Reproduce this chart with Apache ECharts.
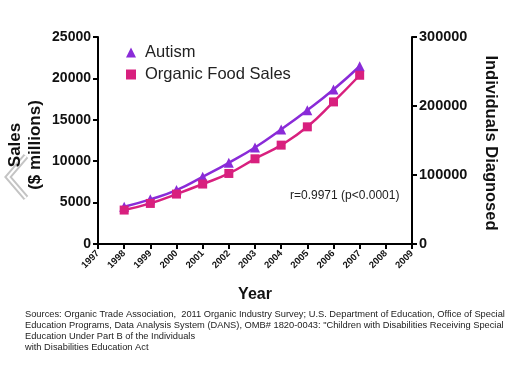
<!DOCTYPE html>
<html><head><meta charset="utf-8">
<script src="https://cdn.jsdelivr.net/npm/echarts@6/dist/echarts.min.js"></script>
<style>html,body{margin:0;padding:0;background:#fff}#c{width:528px;height:369px}</style>
</head><body><div id="c"></div>
<script>
const years = [1998, 1999, 2000, 2001, 2002, 2003, 2004, 2005, 2006, 2007];
const autism = [54000, 64700, 78100, 97400, 117700, 139900, 166000, 193900, 223900, 257600];
const organic = [4100, 4900, 6030, 7240, 8520, 10290, 11940, 14150, 17160, 20380];
const leftTicks = [0, 25000, 5000];
const rightTicks = [0, 300000, 100000];
const xRange = [1997, 2009];

const chart = echarts.init(document.getElementById('c'), null, {renderer: 'canvas'});
const font = 'Arial, "Liberation Sans", sans-serif';
chart.setOption({
  animation: false,
  textStyle: {fontFamily: font},
  grid: {left: 98, right: 116, top: 37, bottom: 125},
  legend: {
    orient: 'vertical', left: 121, top: 39, itemGap: 5, itemWidth: 10, itemHeight: 10,
    textStyle: {fontSize: 16.5, color: '#222', fontFamily: font, padding: [0, 0, 0, 4]},
    data: [{name: 'Autism', icon: 'triangle'}, {name: 'Organic Food Sales', icon: 'rect'}]
  },
  xAxis: {
    type: 'value', min: xRange[0], max: xRange[1], interval: 1,
    name: 'Year', nameLocation: 'middle', nameGap: 43,
    nameTextStyle: {fontSize: 16, fontWeight: 'bold', color: '#111'},
    axisLine: {lineStyle: {color: '#000', width: 2}},
    axisTick: {length: 5, lineStyle: {color: '#000', width: 2}},
    axisLabel: {rotate: 45, fontSize: 9.5, fontWeight: 'bold', color: '#111', margin: 8, formatter: v => String(v)},
    splitLine: {show: false}
  },
  yAxis: [{
    type: 'value', min: leftTicks[0], max: leftTicks[1], interval: leftTicks[2],
    axisLine: {show: true, lineStyle: {color: '#000', width: 2}},
    axisTick: {show: true, length: 5, lineStyle: {color: '#000', width: 2}},
    axisLabel: {fontSize: 14, fontWeight: 'bold', color: '#111', margin: 7, formatter: v => String(v)},
    splitLine: {show: false}
  }, {
    type: 'value', min: rightTicks[0], max: rightTicks[1], interval: rightTicks[2], position: 'right',
    axisLine: {show: true, lineStyle: {color: '#000', width: 2}},
    axisTick: {show: true, length: 5, lineStyle: {color: '#000', width: 2}},
    axisLabel: {fontSize: 14.5, fontWeight: 'bold', color: '#111', margin: 7, formatter: v => String(v)},
    splitLine: {show: false}
  }],
  series: [{
    name: 'Autism', type: 'line', yAxisIndex: 1, smooth: true,
    data: years.map((y, i) => [y, autism[i]]),
    symbol: 'triangle', symbolSize: 10,
    itemStyle: {color: '#8a2bd8'}, lineStyle: {color: '#8a2bd8', width: 2.5}
  }, {
    name: 'Organic Food Sales', type: 'line', yAxisIndex: 0, smooth: true,
    data: years.map((y, i) => [y, organic[i]]),
    symbol: 'rect', symbolSize: 9,
    itemStyle: {color: '#d8207e'}, lineStyle: {color: '#d8207e', width: 2.5}
  }],
  graphic: [
    {type: 'polyline', shape: {points: [[26, 156], [8, 177], [26, 198]]}, style: {stroke: '#c4c4c4', lineWidth: 6, fill: null}},
    {type: 'polyline', shape: {points: [[26, 156], [8, 177], [26, 198]]}, style: {stroke: '#fff', lineWidth: 2, fill: null}},
    {type: 'text', x: 25, y: 145, rotation: Math.PI / 2, style: {text: 'Sales\n($ millions)', font: 'bold 17px ' + font, fill: '#111', align: 'center', verticalAlign: 'middle', lineHeight: 20}},
    {type: 'text', x: 491, y: 143, rotation: -Math.PI / 2, style: {text: 'Individuals Diagnosed', font: 'bold 16.5px ' + font, fill: '#111', align: 'center', verticalAlign: 'middle'}},
    {type: 'text', x: 290, y: 190, style: {text: 'r=0.9971 (p<0.0001)', font: '12px ' + font, fill: '#222'}},
    {type: 'text', x: 25, y: 309, style: {text: 'Sources: Organic Trade Association,  2011 Organic Industry Survey; U.S. Department of Education, Office of Special\nEducation Programs, Data Analysis System (DANS), OMB# 1820-0043: "Children with Disabilities Receiving Special\nEducation Under Part B of the Individuals\nwith Disabilities Education Act', font: '9.3px ' + font, fill: '#222', lineHeight: 11}}
  ]
});
</script></body></html>
